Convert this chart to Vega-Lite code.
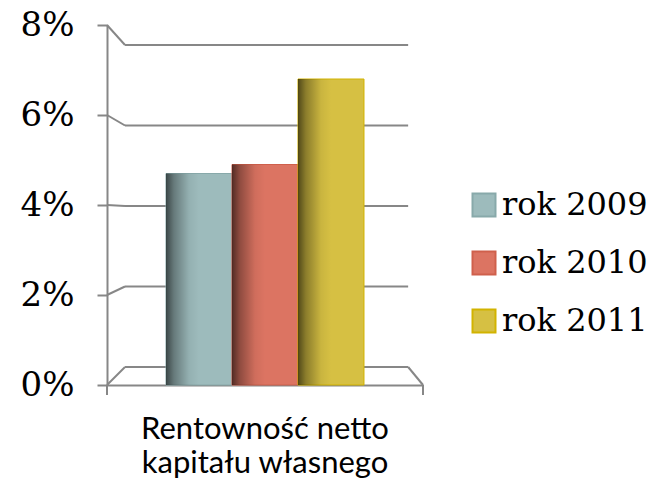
{
  "$schema": "https://vega.github.io/schema/vega-lite/v6.json",
  "width": 316,
  "height": 360,
  "autosize": {"type": "none"},
  "padding": {"left": 107, "top": 25, "right": 231, "bottom": 95},
  "background": "white",
  "config": {"view": {"stroke": null}},
  "resolve": {"scale": {"x": "independent", "y": "independent"}},
  "layer": [
    {
      "data": {"values": [
        {"v": 0, "f": -0.447},
        {"v": 2, "f": 1.789},
        {"v": 4, "f": 4.025},
        {"v": 6, "f": 6.261},
        {"v": 8, "f": 8.497}
      ]},
      "layer": [
        {
          "mark": {"type": "rule", "color": "#878787", "strokeWidth": 2},
          "encoding": {
            "y": {"field": "v", "type": "quantitative", "scale": {"domain": [-0.447, 8.497], "nice": false, "zero": false}, "axis": null},
            "x": {"datum": 0.057, "type": "quantitative", "scale": {"domain": [0, 1], "nice": false, "zero": false}, "axis": null},
            "x2": {"datum": 0.953}
          }
        },
        {
          "mark": {"type": "rule", "color": "#878787", "strokeWidth": 2},
          "encoding": {
            "y": {"field": "f", "type": "quantitative"},
            "y2": {"field": "v"},
            "x": {"datum": 0, "type": "quantitative"},
            "x2": {"datum": 0.057}
          }
        },
        {
          "data": {"values": [{}]},
          "mark": {"type": "rule", "color": "#878787", "strokeWidth": 2},
          "encoding": {
            "y": {"datum": 0, "type": "quantitative"},
            "y2": {"datum": -0.447},
            "x": {"datum": 0.953, "type": "quantitative"},
            "x2": {"datum": 1}
          }
        },
        {
          "data": {"values": [{}]},
          "mark": {"type": "rule", "color": "#878787", "strokeWidth": 2},
          "encoding": {
            "y": {"datum": -0.447, "type": "quantitative"},
            "y2": {"datum": -0.695},
            "x": {"datum": 1, "type": "quantitative"}
          }
        },
        {
          "data": {"values": [{}]},
          "mark": {"type": "rule", "color": "#878787", "strokeWidth": 2},
          "encoding": {
            "y": {"datum": -0.447, "type": "quantitative"},
            "y2": {"datum": -0.695},
            "x": {"datum": 0, "type": "quantitative"}
          }
        }
      ]
    },
    {
      "data": {"values": [
        {"k": "Rentowność netto kapitału własnego", "rok": "rok 2009", "r": 0.047},
        {"k": "Rentowność netto kapitału własnego", "rok": "rok 2010", "r": 0.049},
        {"k": "Rentowność netto kapitału własnego", "rok": "rok 2011", "r": 0.068}
      ]},
      "layer": [
        {
          "mark": {"type": "bar", "strokeWidth": 1},
          "encoding": {
            "x": {
              "field": "k", "type": "nominal",
              "scale": {"paddingOuter": 0.298, "paddingInner": 0},
              "axis": {
                "orient": "bottom",
                "title": null, "ticks": false, "domainColor": "#878787", "domainWidth": 2,
                "labelFont": "Lato", "labelFontSize": 31, "labelColor": "#000",
                "labelLineHeight": 34, "labelPadding": 29, "labelAngle": 0, "labelLimit": 0,
                "labelExpr": "[slice(datum.label, 0, 16), slice(datum.label, 17)]"
              }
            },
            "xOffset": {"field": "rok", "type": "nominal", "scale": {"paddingInner": 0, "paddingOuter": 0}},
            "y": {
              "field": "r", "type": "quantitative",
              "scale": {"domain": [0, 0.08], "nice": false},
              "axis": {
                "orient": "left",
                "title": null, "values": [0, 0.02, 0.04, 0.06, 0.08], "format": ".0%", "grid": false,
                "domainColor": "#878787", "domainWidth": 2, "tickColor": "#878787", "tickWidth": 2,
                "tickSize": 10, "labelFont": "DejaVu Serif", "labelFontSize": 34, "labelColor": "#000",
                "labelPadding": 23
              }
            },
            "color": {
              "field": "rok", "type": "nominal",
              "scale": {"range": ["#9DBBBC", "#DC7462", "#D6C043"]},
              "legend": {
                "title": null, "orient": "none", "legendX": 361, "legendY": 164,
                "symbolType": "square", "symbolSize": 529, "symbolStrokeWidth": 2,
                "labelFont": "DejaVu Serif", "labelFontSize": 32, "labelColor": "#000",
                "labelOffset": 2, "rowPadding": 26, "symbolOpacity": 1
              }
            },
            "stroke": {
              "field": "rok", "type": "nominal",
              "scale": {"range": ["#88a9aa", "#cf604c", "#d2b300"]},
              "legend": {
                "title": null, "orient": "none", "legendX": 361, "legendY": 164,
                "symbolType": "square", "symbolSize": 529, "symbolStrokeWidth": 2,
                "labelFont": "DejaVu Serif", "labelFontSize": 32, "labelColor": "#000",
                "labelOffset": 2, "rowPadding": 26, "symbolOpacity": 1
              }
            }
          }
        },
        {
          "mark": {
            "type": "bar",
            "color": {
              "gradient": "linear", "x1": 0, "x2": 1, "y1": 0, "y2": 0,
              "stops": [
                {"offset": 0, "color": "rgba(0,0,0,0.62)"},
                {"offset": 0.12, "color": "rgba(0,0,0,0.35)"},
                {"offset": 0.35, "color": "rgba(0,0,0,0.06)"},
                {"offset": 0.5, "color": "rgba(0,0,0,0)"},
                {"offset": 1, "color": "rgba(0,0,0,0)"}
              ]
            }
          },
          "encoding": {
            "x": {"field": "k", "type": "nominal"},
            "xOffset": {"field": "rok", "type": "nominal"},
            "y": {"field": "r", "type": "quantitative"}
          }
        }
      ]
    }
  ]
}
